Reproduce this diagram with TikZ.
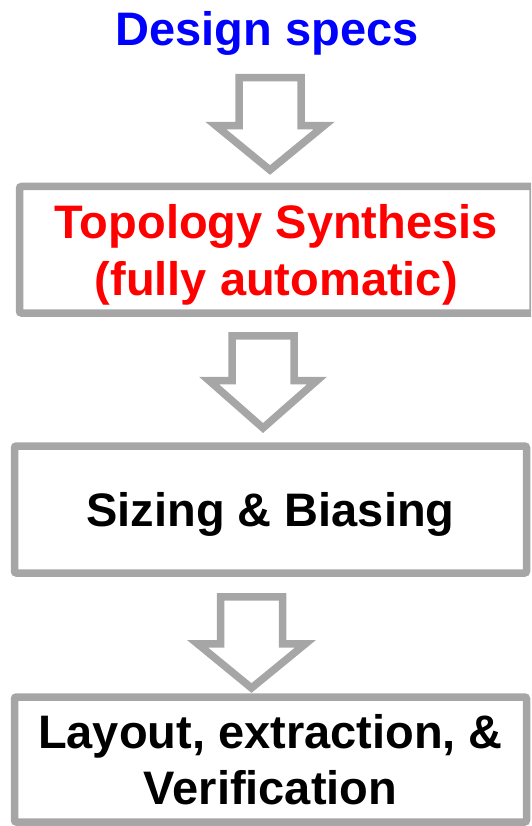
\documentclass[tikz,border=0pt]{standalone}
\usepackage{fontspec}
\setmainfont{Liberation Sans}
\usepackage{tikz}
\usetikzlibrary{positioning}

\begin{document}
\begin{tikzpicture}[x=1pt,y=-1pt,
  title/.style={anchor=base,inner sep=0pt,text=blue,font=\fontsize{47}{56.5}\selectfont\bfseries},
  stage/.style={draw=gray!70,line width=7.5pt,rounded corners=2pt,fill=white,align=center,
    text depth=0pt,inner sep=0pt,font=\fontsize{47}{56.5}\selectfont\bfseries},
  hollow/.style={draw=gray!70,line width=7.5pt,line join=miter,fill=white}]
  \useasboundingbox (0,0) rectangle (531,826);
  \clip (0,0) rectangle (531,826);

  % Input
  \node[title] (specs) at (267,46) {Design specs};

  % Stages
  \node[stage,minimum width=513.5pt,minimum height=126.5pt,text=red] (topo) at (276.25,249.75)
    {Topology Synthesis\\(fully automatic)};
  \node[stage,minimum width=512pt,minimum height=127pt] (sizing) at (270.5,509.5)
    {Sizing \& Biasing};
  \node[stage,minimum width=512pt,minimum height=125pt] (layout) at (270.5,759.5)
    {Layout, extraction, \&\\Verification};

  % Block arrows between the stages
  \coordinate (a1) at (270,77.75);
  \coordinate (a2) at (263,335.75);
  \coordinate (a3) at (251.5,596.75);
  \draw[hollow] (a1) ++(-31,0) -- ++(62,0) -- ++(0,48) -- ++(23,0) -- ++(-54,44.25)
    -- ++(-54,-44.25) -- ++(23,0) -- cycle;
  \draw[hollow] (a2) ++(-31,0) -- ++(62,0) -- ++(0,44.75) -- ++(23,0) -- ++(-54,47.5)
    -- ++(-54,-47.5) -- ++(23,0) -- cycle;
  \draw[hollow] (a3) ++(-31,0) -- ++(62,0) -- ++(0,47) -- ++(23,0) -- ++(-54,44.25)
    -- ++(-54,-44.25) -- ++(23,0) -- cycle;
\end{tikzpicture}
\end{document}
